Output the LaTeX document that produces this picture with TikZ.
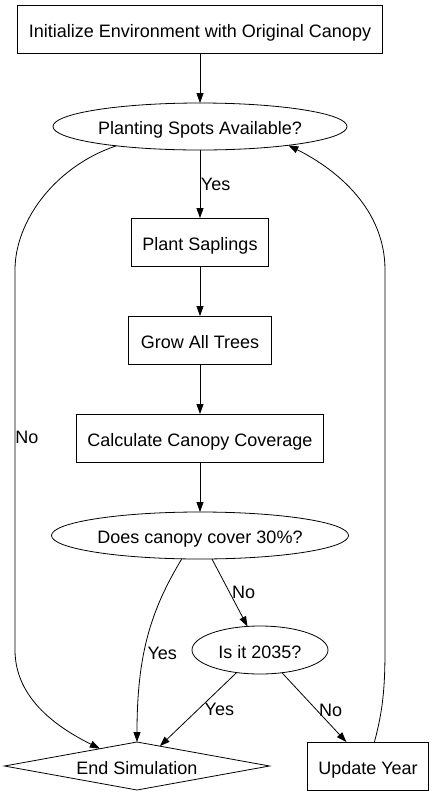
\documentclass[tikz,border=0pt]{standalone}
\usepackage{fontspec}
\setmainfont{Liberation Sans}
\usetikzlibrary{positioning, shapes.geometric, arrows.meta}

\begin{document}
\begin{tikzpicture}[
                        stepbox/.style={rectangle, draw, line width=0.8pt, minimum height=48pt, inner sep=0pt, outer sep=0pt, text height=16pt, text depth=0pt},
                        question/.style={ellipse, draw, line width=0.8pt, minimum height=47pt, inner sep=0pt, outer sep=0pt, text height=16pt, text depth=0pt},
                        stopnode/.style={diamond, draw, line width=0.8pt, aspect=5.5, minimum width=265pt, minimum height=48pt, inner sep=0pt, outer sep=0pt, text height=16pt, text depth=0pt},
                        flow/.style={-{Triangle[length=10pt, width=7pt]}, line width=0.8pt},
                        font=\fontsize{18}{22}\selectfont,
                        ]
        \useasboundingbox (0,0) rectangle (435pt,-796pt);
        %Nodes
        \node[stepbox, minimum width=365pt]   (Init)      at (200pt,-29pt)                   {Initialize Environment with Original Canopy};
        \node[question, minimum width=294pt]  (Spots)     [below=50pt of Init]               {Planting Spots Available?};
        \node[stepbox, minimum width=137pt]   (Plant)     [below=68pt of Spots]              {Plant Saplings};
        \node[stepbox, minimum width=143pt]   (Grow)      [below=50pt of Plant]              {Grow All Trees};
        \node[stepbox, minimum width=247pt]   (Calc)      [below=50pt of Grow]               {Calculate Canopy Coverage};
        \node[question, minimum width=297pt]  (Cover)     [below=50pt of Calc]               {Does canopy cover 30\%?};
        \node[question, minimum width=136pt, minimum height=48pt] (Year)  [below=67pt of Cover, xshift=60pt]  {Is it 2035?};
        \node[stopnode]                       (End)       [below=68pt of Year, xshift=-123pt] {End Simulation};
        \node[stepbox, minimum width=121pt]   (Update)    [below=68pt of Year, xshift=108pt]  {Update Year};

        \coordinate (NoTop)   at (15pt,-270pt);
        \coordinate (NoBot)   at (15pt,-650pt);
        \coordinate (LoopBot) at (385pt,-650pt);
        \coordinate (LoopTop) at (385pt,-270pt);

        %Lines
        \draw[flow] (Init) -- (Spots);
        \draw[flow] (Spots) -- node[right, inner sep=0.5pt] {Yes} (Plant);
        \draw[flow] (Plant) -- (Grow);
        \draw[flow] (Grow) -- (Calc);
        \draw[flow] (Calc) -- (Cover);

        \draw[flow] (Spots.193) .. controls +(-60pt,-20pt) and +(0,50pt) .. (NoTop)
                    -- node[pos=0.44, right, inner sep=0pt] {No} (NoBot)
                    .. controls +(0,-50pt) and +(-40pt,20pt) .. (End.155);

        \draw[flow] (Cover.232) .. controls +(-30pt,-50pt) and +(0,90pt) .. node[pos=0.6, right, inner sep=3pt] {Yes} (End.north);
        \draw[flow] (Cover.297) -- node[right, inner sep=2pt] {No} (Year.118);
        \draw[flow] (Year.224) -- node[right, inner sep=6pt] {Yes} (End.41);
        \draw[flow] (Year.314) -- node[pos=0.54, right, inner sep=2pt] {No} (Update.132);

        \draw[flow] (Update.75) .. controls +(8pt,30pt) and +(0,-40pt) .. (LoopBot)
                    -- (LoopTop)
                    .. controls +(0,60pt) and +(50pt,-25pt) .. (Spots.-12);
    \end{tikzpicture}
\end{document}
